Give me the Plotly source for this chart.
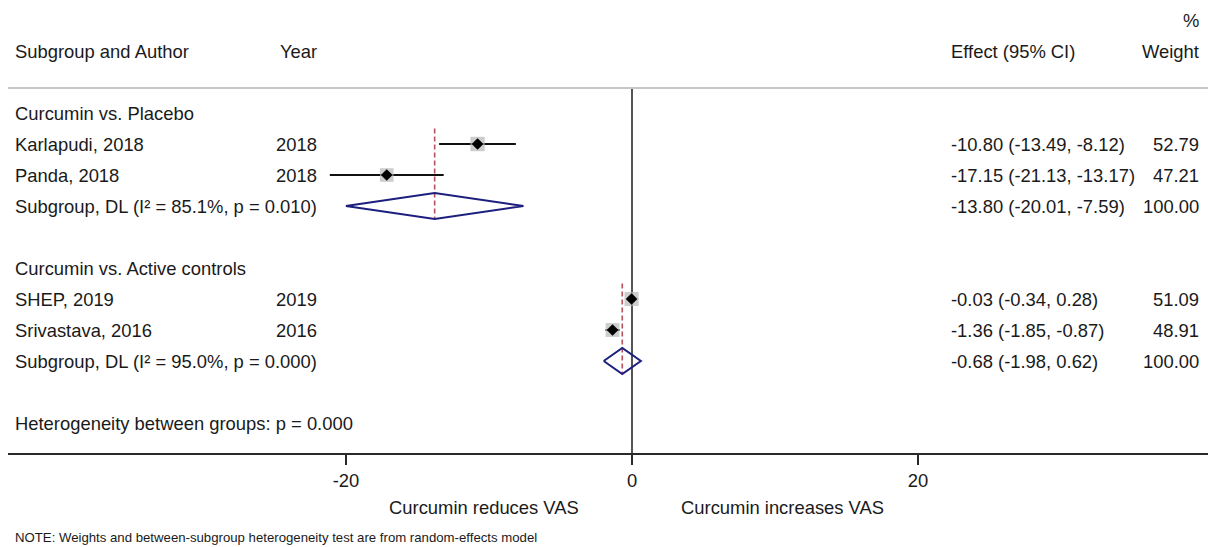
import plotly.graph_objects as go

# ---------------- data ----------------
study_labels = ["Karlapudi, 2018", "Panda, 2018", "SHEP, 2019", "Srivastava, 2016"]
study_years = ["2018", "2018", "2019", "2016"]
study_effect = [-10.80, -17.15, -0.03, -1.36]
study_lo = [-13.49, -21.13, -0.34, -1.85]
study_hi = [-8.12, -13.17, 0.28, -0.87]
study_weight = [52.79, 47.21, 51.09, 48.91]
study_rows = [2, 3, 7, 8]

group_names = ["Curcumin vs. Placebo", "Curcumin vs. Active controls"]
group_rows = [1, 6]
sub_labels = ["Subgroup, DL (I\u00b2 = 85.1%, p = 0.010)", "Subgroup, DL (I\u00b2 = 95.0%, p = 0.000)"]
sub_effect = [-13.80, -0.68]
sub_lo = [-20.01, -1.98]
sub_hi = [-7.59, 0.62]
sub_weight = [100.00, 100.00]
sub_rows = [4, 9]

het_text = "Heterogeneity between groups: p = 0.000"
het_row = 11
tick_vals = [-20, 0, 20]
tick_text = ["-20", "0", "20"]
left_label = "Curcumin reduces VAS"
right_label = "Curcumin increases VAS"
note_text = "NOTE: Weights and between-subgroup heterogeneity test are from random-effects model"

# ---------------- layout geometry ----------------
W, H = 1208, 547
PLOT_L, PLOT_R = 8, 1208
PLOT_T, PLOT_B = 0, 453
X0_PX, PX_PER_UNIT = 632, 14.3
ROW1_PX, ROW_PX = 113, 31.0

x_range = [(PLOT_L - X0_PX) / PX_PER_UNIT, (PLOT_R - X0_PX) / PX_PER_UNIT]
y_top = 1 - (ROW1_PX - PLOT_T) / ROW_PX
y_bot = 1 + (PLOT_B - ROW1_PX) / ROW_PX


def px_x(px):
    return (px - PLOT_L) / (PLOT_R - PLOT_L)


def px_y(py):
    return 1 - (py - PLOT_T) / (PLOT_B - PLOT_T)


FONT = "Liberation Sans, Arial, Helvetica, sans-serif"
TXT = "#1a1a1a"
FS = 18.4

fig = go.Figure()

# zero line
fig.add_trace(go.Scatter(x=[0, 0], y=[0.19, y_bot], mode="lines",
                         line=dict(color="#2a2a2a", width=1.6), hoverinfo="skip", showlegend=False))

# dashed subgroup estimate lines
for g, r, e in zip(group_rows, sub_rows, sub_effect):
    fig.add_trace(go.Scatter(x=[e, e], y=[g + 0.5, r + 0.42], mode="lines",
                             line=dict(color="#b5515a", width=1.6, dash="5px,3px"),
                             hoverinfo="skip", showlegend=False))

# CI lines
cx, cy = [], []
for r, l, h in zip(study_rows, study_lo, study_hi):
    cx += [l, h, None]
    cy += [r, r, None]
fig.add_trace(go.Scatter(x=cx, y=cy, mode="lines", line=dict(color="#111111", width=2),
                         hoverinfo="skip", showlegend=False))

# weight boxes
box_sizes = [14 * (w / 50) ** 0.5 for w in study_weight]
fig.add_trace(go.Scatter(x=study_effect, y=study_rows, mode="markers",
                         marker=dict(symbol="square", size=box_sizes, color="#b8b8b8",
                                     line=dict(width=0)),
                         hoverinfo="skip", showlegend=False))
# point estimates
fig.add_trace(go.Scatter(x=study_effect, y=study_rows, mode="markers",
                         marker=dict(symbol="diamond", size=9, color="#000000",
                                     line=dict(width=0)),
                         hoverinfo="skip", showlegend=False))

# subgroup diamonds
for r, e, l, h in zip(sub_rows, sub_effect, sub_lo, sub_hi):
    fig.add_trace(go.Scatter(x=[l, e, h, e, l], y=[r, r - 0.42, r, r + 0.42, r], mode="lines",
                             line=dict(color="#1c1f7e", width=2), hoverinfo="skip",
                             showlegend=False))

ann = []


def add_text(text, xpx, row=None, ypx=None, xanchor="left", size=FS):
    a = dict(text=text, xref="paper", x=px_x(xpx), showarrow=False, xanchor=xanchor,
             yanchor="middle", font=dict(family=FONT, size=size, color=TXT))
    if row is not None:
        a.update(yref="y", y=row)
    else:
        a.update(yref="paper", y=px_y(ypx))
    ann.append(a)


# headers
add_text("%", 1201, row=-2, xanchor="right")
add_text("Subgroup and Author", 13, row=-1)
add_text("Year", 319, row=-1, xanchor="right")
add_text("Effect (95% CI)", 949, row=-1)
add_text("Weight", 1201, row=-1, xanchor="right")

for g, name in zip(group_rows, group_names):
    add_text(name, 13, row=g)

for r, lab, yr, e, l, h, w in zip(study_rows, study_labels, study_years, study_effect,
                                   study_lo, study_hi, study_weight):
    add_text(lab, 13, row=r)
    add_text(yr, 319, row=r, xanchor="right")
    add_text(f"{e:.2f} ({l:.2f}, {h:.2f})", 949, row=r)
    add_text(f"{w:.2f}", 1201, row=r, xanchor="right")

for r, lab, e, l, h, w in zip(sub_rows, sub_labels, sub_effect, sub_lo, sub_hi, sub_weight):
    add_text(lab, 13, row=r)
    add_text(f"{e:.2f} ({l:.2f}, {h:.2f})", 949, row=r)
    add_text(f"{w:.2f}", 1201, row=r, xanchor="right")

add_text(het_text, 13, row=het_row)
add_text(left_label, 484, ypx=507, xanchor="center")
add_text(right_label, 782, ypx=507, xanchor="center")
add_text(note_text, 13, ypx=537, size=13.2)

fig.update_layout(
    width=W, height=H,
    margin=dict(l=PLOT_L, r=W - PLOT_R, t=PLOT_T, b=H - PLOT_B, pad=0),
    paper_bgcolor="white", plot_bgcolor="white",
    font=dict(family=FONT, size=FS, color=TXT),
    annotations=ann,
    hovermode=False,
    shapes=[dict(type="line", xref="paper", yref="y", x0=0, x1=1, y0=0.19, y1=0.19,
                 line=dict(color="#c6c6c6", width=2))],
    xaxis=dict(range=x_range, showgrid=False, zeroline=False, showline=True,
               linecolor="#2a2a2a", linewidth=2, ticks="outside", ticklen=10,
               tickwidth=1.5, tickcolor="#2a2a2a", tickvals=tick_vals, ticktext=tick_text,
               tickfont=dict(family=FONT, size=FS, color=TXT), fixedrange=True),
    yaxis=dict(range=[y_bot, y_top], visible=False, showgrid=False, zeroline=False,
               fixedrange=True),
)

fig.write_html("out.html", config=dict(displayModeBar=False, staticPlot=True))
